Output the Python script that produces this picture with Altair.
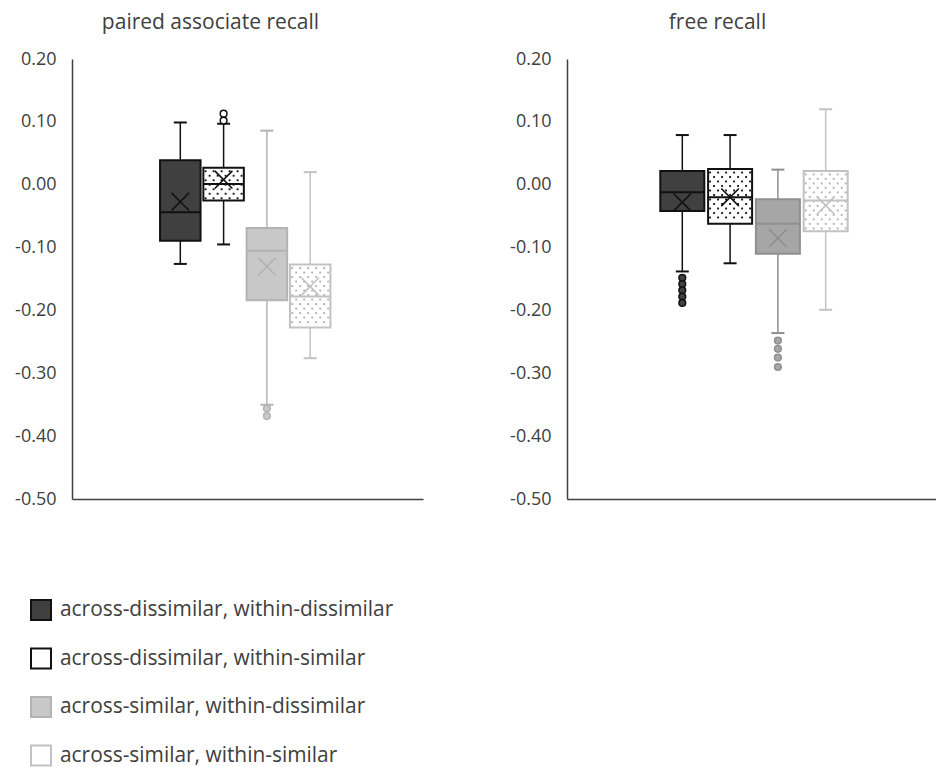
import altair as alt
import pandas as pd

SERIES = [
    "across-dissimilar, within-dissimilar",
    "across-dissimilar, within-similar",
    "across-similar, within-dissimilar",
    "across-similar, within-similar",
]
Y_TICKS = [0.2, 0.1, 0.0, -0.1, -0.2, -0.3, -0.4, -0.5]

# paired associate recall
PA_LOW = [-0.126, -0.095, -0.350, -0.276]
PA_Q1 = [-0.089, -0.025, -0.184, -0.227]
PA_MED = [-0.044, 0.001, -0.105, -0.178]
PA_Q3 = [0.039, 0.027, -0.069, -0.127]
PA_HIGH = [0.099, 0.097, 0.086, 0.020]
PA_MEAN = [-0.027, 0.008, -0.130, -0.162]
PA_OUT_SERIES = [1, 1, 2, 2]
PA_OUT_VALUE = [0.113, 0.102, -0.356, -0.368]

# free recall
FR_LOW = [-0.138, -0.125, -0.236, -0.199]
FR_Q1 = [-0.042, -0.062, -0.110, -0.074]
FR_MED = [-0.012, -0.020, -0.062, -0.025]
FR_Q3 = [0.022, 0.025, -0.023, 0.022]
FR_HIGH = [0.079, 0.079, 0.024, 0.120]
FR_MEAN = [-0.028, -0.020, -0.085, -0.033]
FR_OUT_SERIES = [0, 0, 0, 0, 0, 2, 2, 2, 2]
FR_OUT_VALUE = [-0.148, -0.158, -0.168, -0.178, -0.188, -0.248, -0.261, -0.275, -0.290]

# styles
PA_FILL = ["#404040", "#ffffff", "#c8c8c8", "#ffffff"]
PA_STROKE = ["#111111", "#111111", "#b3b3b3", "#c2c2c2"]
FR_FILL = ["#404040", "#ffffff", "#a6a6a6", "#ffffff"]
FR_STROKE = ["#111111", "#111111", "#8f8f8f", "#c2c2c2"]
DOT_COLOR = [None, "#111111", None, "#b0b0b0"]

FONT = "Open Sans"
TEXT_COLOR = "#404040"
YMIN, YMAX = -0.5, 0.2
HEIGHT = 440


def panel(title, low, q1, med, q3, high, mean, out_s, out_v, fills, strokes,
          width, first_px, step_px, box_px, title_dx, with_legend):
    # layout along a unit-wide category axis
    centers = [(first_px + i * step_px) / width for i in range(len(SERIES))]
    half = box_px / 2.0 / width
    cap = 6.5 / width
    df = pd.DataFrame({
        "series": SERIES, "low": low, "q1": q1, "med": med, "q3": q3,
        "high": high, "mean": mean, "fillc": fills, "strokec": strokes,
        "xc": centers,
        "xl": [c - half for c in centers], "xr": [c + half for c in centers],
        "cl": [c - cap for c in centers], "cr": [c + cap for c in centers],
    })
    outs = pd.DataFrame({
        "series": [SERIES[i] for i in out_s],
        "v": out_v,
        "xc": [centers[i] for i in out_s],
        "fillc": [fills[i] for i in out_s],
        "strokec": [strokes[i] for i in out_s],
    })
    # dotted texture inside patterned boxes (derived from the box extents)
    px_y = (YMAX - YMIN) / HEIGHT
    px_x = 1.0 / width
    ncols = int(box_px // 4)
    dot_rows = []
    for i, s in enumerate(SERIES):
        if DOT_COLOR[i] is None:
            continue
        y = q3[i] - 3.5 * px_y
        r = 0
        while y > q1[i] + 2.0 * px_y:
            for c in range(r % 2, ncols, 2):
                xd = centers[i] + (c - (ncols - 1) / 2.0) * 4.0 * px_x
                dot_rows.append({"series": s, "y": y, "x": xd, "dc": DOT_COLOR[i]})
            y -= 4.5 * px_y
            r += 1
    dots = pd.DataFrame(dot_rows)

    xscale = alt.Scale(domain=[0, 1], nice=False, zero=False)
    xaxis = alt.Axis(labels=False, ticks=False, title=None, grid=False,
                     domainColor="#404040", domainWidth=1.5)
    yscale = alt.Scale(domain=[YMIN, YMAX], nice=False, zero=False)
    yaxis = alt.Axis(values=Y_TICKS, grid=False, ticks=False, title=None,
                     labelExpr="(datum.value < 0 ? '-' : '') + format(abs(datum.value), '.2f')",
                     labelPadding=16, labelFontSize=18, labelFont=FONT, labelColor=TEXT_COLOR,
                     domainColor="#404040", domainWidth=1.5)

    base = alt.Chart(df)
    whisk = base.mark_rule(strokeWidth=1.5).encode(
        x=alt.X("xc:Q", scale=xscale, axis=xaxis),
        y=alt.Y("low:Q", scale=yscale, axis=yaxis), y2="high:Q",
        color=alt.Color("strokec:N", scale=None))
    cap_lo = base.mark_rule(strokeWidth=2).encode(
        x="cl:Q", x2="cr:Q", y="low:Q", color=alt.Color("strokec:N", scale=None))
    cap_hi = base.mark_rule(strokeWidth=2).encode(
        x="cl:Q", x2="cr:Q", y="high:Q", color=alt.Color("strokec:N", scale=None))

    if with_legend:
        leg = alt.Legend(title=None, orient="none", legendX=-42, legendY=540,
                         symbolType="square", symbolSize=400, symbolStrokeWidth=2,
                         labelFontSize=20.9, labelFont=FONT, labelColor=TEXT_COLOR,
                         rowPadding=20.5, labelOffset=8, labelLimit=600)
        fill_enc = alt.Fill("series:N", sort=SERIES,
                            scale=alt.Scale(domain=SERIES, range=PA_FILL), legend=leg)
        stroke_enc = alt.Stroke("series:N", sort=SERIES,
                                scale=alt.Scale(domain=SERIES, range=PA_STROKE), legend=leg)
    else:
        fill_enc = alt.Fill("fillc:N", scale=None)
        stroke_enc = alt.Stroke("strokec:N", scale=None)

    box = base.mark_bar(strokeWidth=2).encode(
        x="xl:Q", x2="xr:Q", y="q3:Q", y2="q1:Q", fill=fill_enc, stroke=stroke_enc)
    dot_layer = alt.Chart(dots).mark_point(filled=True, size=3.5, opacity=1, shape="square").encode(
        x="x:Q", y="y:Q", color=alt.Color("dc:N", scale=None))
    median = base.mark_rule(strokeWidth=2).encode(
        x="xl:Q", x2="xr:Q", y="med:Q", color=alt.Color("strokec:N", scale=None))
    meanx = base.mark_point(shape="M-1,-1L1,1M-1,1L1,-1", size=310, strokeWidth=1.6,
                            filled=False, opacity=1).encode(
        x="xc:Q", y="mean:Q", color=alt.Color("strokec:N", scale=None))
    outl = alt.Chart(outs).mark_point(shape="circle", size=45, strokeWidth=1.5, opacity=1).encode(
        x="xc:Q", y="v:Q", fill=alt.Fill("fillc:N", scale=None),
        stroke=alt.Stroke("strokec:N", scale=None))

    return alt.layer(whisk, cap_lo, cap_hi, box, dot_layer, median, meanx, outl).properties(
        width=width, height=HEIGHT,
        title=alt.TitleParams(title, fontSize=21, font=FONT, fontWeight="normal",
                              color=TEXT_COLOR, offset=17, dx=title_dx, anchor="middle"))


left = panel("paired associate recall", PA_LOW, PA_Q1, PA_MED, PA_Q3, PA_HIGH, PA_MEAN,
             PA_OUT_SERIES, PA_OUT_VALUE, PA_FILL, PA_STROKE,
             351, 108.3, 43.3, 40.5, -37, True)
right = panel("free recall", FR_LOW, FR_Q1, FR_MED, FR_Q3, FR_HIGH, FR_MEAN,
              FR_OUT_SERIES, FR_OUT_VALUE, FR_FILL, FR_STROKE,
              369, 115.3, 47.8, 44.0, -34, False)

chart = alt.hconcat(left, right, spacing=86).resolve_scale(
    x="independent", y="independent").properties(
    padding={"left": 14, "top": 12, "right": 0, "bottom": 0},
    background="white",
).configure_view(stroke=None)

chart.save("out.html", embed_options={"renderer": "svg", "actions": False})
